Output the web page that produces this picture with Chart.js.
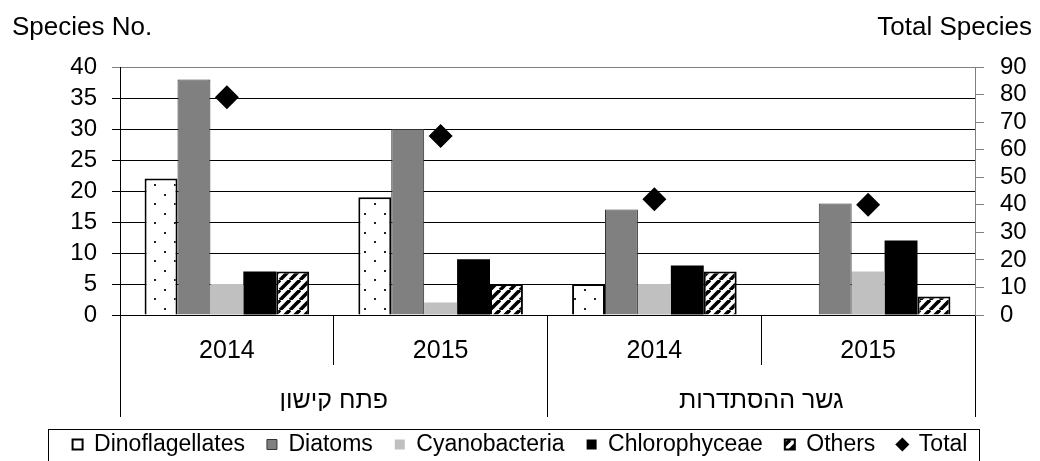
<!DOCTYPE html>
<html><head><meta charset="utf-8">
<script src="https://cdn.jsdelivr.net/npm/chart.js@4"></script>
<style>html,body{margin:0;padding:0;background:#fff}canvas{display:block}</style>
</head><body>
<canvas id="c" width="1040" height="461"></canvas>
<script>
// ---- data ----
const groups = ['פתח קישון', 'גשר ההסתדרות'];
const years = ['2014', '2015', '2014', '2015'];
const dinoflagellates = [22, 19, 5, 0];
const diatoms = [38, 30, 17, 18];
const cyanobacteria = [5, 2, 5, 7];
const chlorophyceae = [7, 9, 8, 12];
const others = [7, 5, 7, 3];
const total = [79, 65, 42, 40];
const leftTitle = 'Species No.';
const rightTitle = 'Total Species';
const seriesNames = ['Dinoflagellates', 'Diatoms', 'Cyanobacteria', 'Chlorophyceae', 'Others', 'Total'];

const FONT = "'Liberation Sans', Arial, sans-serif";
const canvas = document.getElementById('c');
const mainCtx = canvas.getContext('2d');

function dotPattern() {
  const t = document.createElement('canvas'); t.width = 20; t.height = 19;
  const g = t.getContext('2d');
  g.fillStyle = '#fff'; g.fillRect(0, 0, 20, 19);
  g.fillStyle = '#222'; g.fillRect(4, 4, 2, 2); g.fillRect(14, 13, 2, 2);
  return mainCtx.createPattern(t, 'repeat');
}
function stripePattern() {
  const t = document.createElement('canvas'); t.width = 10; t.height = 10;
  const g = t.getContext('2d');
  g.fillStyle = '#fff'; g.fillRect(0, 0, 10, 10);
  g.strokeStyle = '#000'; g.lineWidth = 3.6;
  for (const o of [-10, 0, 10]) { g.beginPath(); g.moveTo(o, 10); g.lineTo(o + 10, 0); g.stroke(); }
  return mainCtx.createPattern(t, 'repeat');
}
const dots = dotPattern();
const stripes = stripePattern();

const titlesPlugin = {
  id: 'axisTitles',
  afterDraw(chart) {
    const c = chart.ctx; c.save();
    c.font = '26px ' + FONT; c.fillStyle = '#000'; c.textBaseline = 'middle';
    c.textAlign = 'left'; c.fillText(leftTitle, 12, chart.chartArea.top - 39);
    c.textAlign = 'right'; c.fillText(rightTitle, chart.width - 8, chart.chartArea.top - 39);
    c.restore();
  }
};
const legendBoxPlugin = {
  id: 'legendBox',
  afterDraw(chart) {
    const hb = chart.legend.legendHitBoxes; if (!hb || !hb.length) return;
    const l = Math.min(...hb.map(h => h.left));
    const r = Math.max(...hb.map(h => h.left + h.width));
    const mid = hb[0].top + hb[0].height / 2;
    const c = chart.ctx; c.save();
    c.strokeStyle = '#000'; c.lineWidth = 1;
    c.strokeRect(Math.round(l - 25) + 0.5, Math.round(mid - 16) + 0.5, Math.round(r - l + 36), 100);
    c.restore();
  }
};

new Chart(canvas, {
  data: {
    labels: years,
    datasets: [
      { type: 'bar', label: seriesNames[0], data: dinoflagellates, backgroundColor: dots, borderColor: '#000', borderWidth: 2, pointStyle: 'rect', order: 1, xAxisID: 'x', yAxisID: 'y' },
      { type: 'bar', label: seriesNames[1], data: diatoms, backgroundColor: '#808080', borderColor: '#333', borderWidth: 1, pointStyle: 'rect', order: 1, xAxisID: 'x', yAxisID: 'y' },
      { type: 'bar', label: seriesNames[2], data: cyanobacteria, backgroundColor: '#c0c0c0', borderColor: '#c0c0c0', borderWidth: 0, pointStyle: 'rect', order: 1, xAxisID: 'x', yAxisID: 'y' },
      { type: 'bar', label: seriesNames[3], data: chlorophyceae, backgroundColor: '#000', borderColor: '#000', borderWidth: 0, pointStyle: 'rect', order: 1, xAxisID: 'x', yAxisID: 'y' },
      { type: 'bar', label: seriesNames[4], data: others, backgroundColor: stripes, borderColor: '#000', borderWidth: 2, pointStyle: 'rect', order: 1, xAxisID: 'x', yAxisID: 'y' },
      { type: 'line', label: seriesNames[5], data: total, showLine: false, pointStyle: 'rectRot', pointRadius: 12, pointHoverRadius: 12, backgroundColor: '#000', borderColor: '#000', pointBorderWidth: 0, order: 0, xAxisID: 'x', yAxisID: 'y2' }
    ]
  },
  options: {
    responsive: false, animation: false, devicePixelRatio: 1,
    layout: { padding: { top: 67, left: 0, right: 0, bottom: -5 } },
    datasets: { bar: { categoryPercentage: 0.77, barPercentage: 1 } },
    plugins: {
      tooltip: { enabled: false },
      legend: {
        position: 'bottom',
        labels: {
          font: { family: FONT, size: 23 }, color: '#000',
          usePointStyle: true, boxWidth: 10, boxHeight: 10, padding: 22,
          sort: (a, b) => a.datasetIndex - b.datasetIndex
        }
      }
    },
    scales: {
      x: {
        type: 'category', position: 'bottom', offset: true,
        grid: { offset: true, drawOnChartArea: false, drawTicks: true, tickLength: 50, color: '#000' },
        border: { display: false },
        ticks: { font: { family: FONT, size: 25 }, color: '#000', padding: -29, maxRotation: 0, autoSkip: false },
        afterFit(s) { s.height = 50; }
      },
      x2: {
        type: 'category', labels: groups, position: 'bottom', offset: true, weight: 1,
        grid: { offset: true, drawOnChartArea: false, drawTicks: true, tickLength: 52, color: '#000' },
        border: { display: false },
        ticks: { font: { family: FONT, size: 25 }, color: '#000', padding: -31, maxRotation: 0, autoSkip: false },
        afterFit(s) { s.height = 46; }
      },
      y: {
        position: 'left', min: 0, max: 40,
        ticks: { stepSize: 5, autoSkip: false, font: { family: FONT, size: 24 }, color: '#000', padding: 15 },
        grid: { color: (c) => (c.tick && c.tick.value === 40 ? '#808080' : '#000'), tickLength: 8 },
        border: { color: '#000' },
        afterFit(s) { s.width = 120; }
      },
      y2: {
        position: 'right', min: 0, max: 90,
        ticks: { stepSize: 10, autoSkip: false, font: { family: FONT, size: 24 }, color: '#000', padding: 16 },
        grid: { drawOnChartArea: false, color: '#808080', tickLength: 9 },
        border: { color: '#808080' },
        afterFit(s) { s.width = 65; }
      }
    }
  },
  plugins: [titlesPlugin, legendBoxPlugin]
});
</script>
</body></html>
